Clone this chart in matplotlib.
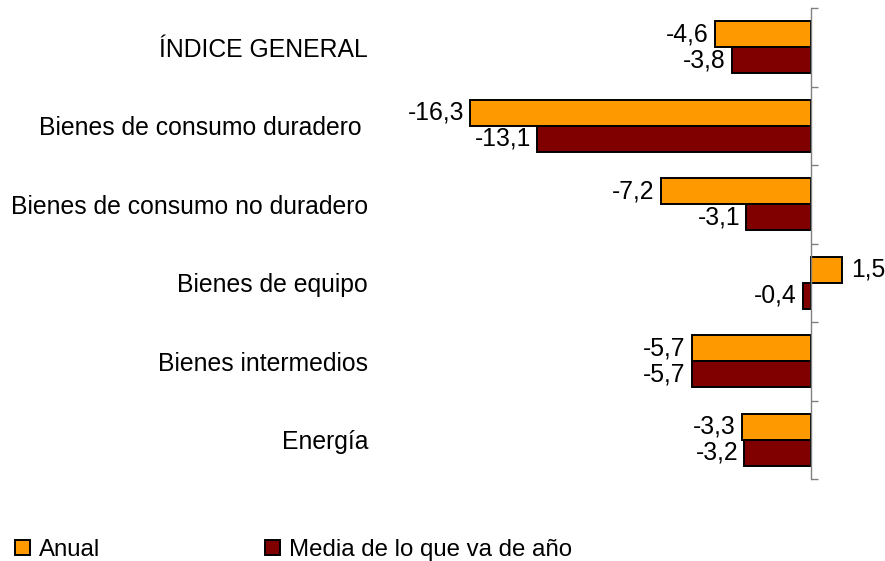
import matplotlib
matplotlib.use('Agg')
import matplotlib.pyplot as plt
from matplotlib.patches import Patch
import numpy as np

categories = ['ÍNDICE GENERAL', 'Bienes de consumo duradero ', 'Bienes de consumo no duradero',
              'Bienes de equipo', 'Bienes intermedios', 'Energía']
anual = [-4.6, -16.3, -7.2, 1.5, -5.7, -3.3]
media = [-3.8, -13.1, -3.1, -0.4, -5.7, -3.2]
series_names = ['Anual', 'Media de lo que va de año']

plt.rcParams['font.family'] = ['Liberation Sans', 'DejaVu Sans']
FS = 17.8
FS_LEG = 17.3

fig = plt.figure(figsize=(8.85, 5.61), dpi=100)
ax = fig.add_axes([380 / 885, 82 / 561, 490 / 885, 471 / 561])

y = np.arange(len(categories))
h = 0.33
b1 = ax.barh(y - h / 2, anual, height=h, color='#FF9900', edgecolor='black', linewidth=1.4)
b2 = ax.barh(y + h / 2, media, height=h, color='#800000', edgecolor='black', linewidth=1.4)

# value labels, comma decimal
for bars, vals in ((b1, anual), (b2, media)):
    for bar, v in zip(bars, vals):
        yc = bar.get_y() + bar.get_height() / 2
        txt = f'{v:.1f}'.replace('.', ',')
        if v < 0:
            ax.annotate(txt, (v, yc), xytext=(-6, 0), textcoords='offset pixels',
                        ha='right', va='center', fontsize=FS)
        else:
            ax.annotate(txt, (v, yc), xytext=(9, 0), textcoords='offset pixels',
                        ha='left', va='center', fontsize=FS)

ax.set_xlim((380 - 811) / 20.9, (870 - 811) / 20.9)
ax.set_ylim(len(categories) - 0.5, -0.5)

# zero line with ticks at the group boundaries
for s in ['top', 'bottom', 'left']:
    ax.spines[s].set_visible(False)
ax.spines['right'].set_position(('data', 0))
ax.spines['right'].set_color('#808080')
ax.spines['right'].set_linewidth(1.0)

ax.set_yticks(y)
ax.set_yticklabels(categories, fontsize=FS)
ax.set_yticks(np.arange(len(categories) + 1) - 0.5, minor=True)
ax.tick_params(axis='y', which='major', left=False, right=False, labelleft=True, pad=5)
ax.tick_params(axis='y', which='minor', left=False, right=True, direction='out',
               length=5, width=1.0, color='#808080')
ax.set_xticks([])

handles = [Patch(facecolor='#FF9900', edgecolor='black', linewidth=1.4),
           Patch(facecolor='#800000', edgecolor='black', linewidth=1.4)]
fig.legend(handles, series_names, loc='center left', bbox_to_anchor=(0.017, 0.02),
           ncol=2, frameon=False, fontsize=FS_LEG, handlelength=0.62, handleheight=0.62,
           handletextpad=0.38, columnspacing=6.85, borderaxespad=0, borderpad=0)

plt.savefig('out.png', dpi=100)
plt.close()
